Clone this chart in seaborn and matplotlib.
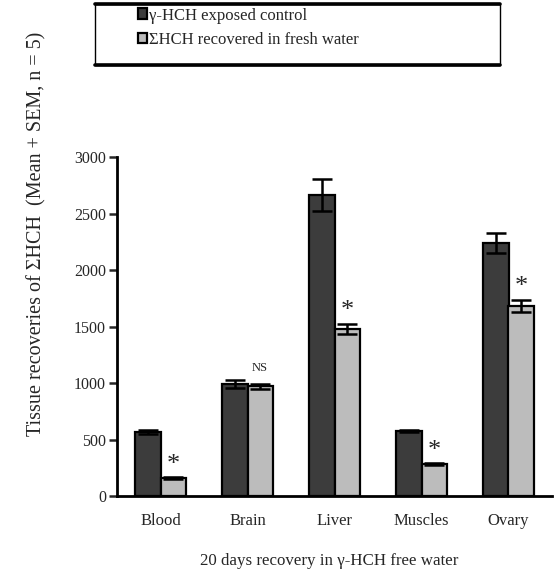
import matplotlib
matplotlib.use("Agg")
import matplotlib.pyplot as plt
import matplotlib.lines as mlines
import matplotlib.patches as mpatches
import numpy as np
import pandas as pd
import seaborn as sns

# Tissue residues (mean and SEM, n = 5)
tissues = ["Blood", "Brain", "Liver", "Muscles", "Ovary"]
groups = ["\u03b3-HCH exposed control", "\u03a3HCH recovered in fresh water"]
control_mean = [565, 990, 2662, 575, 2237]
control_sem = [15, 35, 140, 12, 90]
recovered_mean = [158, 970, 1478, 282, 1682]
recovered_sem = [8, 25, 45, 8, 55]
signif = ["*", "NS", "*", "*", "*"]
y_ticks = [0, 500, 1000, 1500, 2000, 2500, 3000]

df = pd.DataFrame({
    "tissue": tissues * 2,
    "group": [groups[0]] * 5 + [groups[1]] * 5,
    "value": control_mean + recovered_mean,
})

sns.set_theme(style="white")
plt.rcParams["font.family"] = ["Liberation Serif", "DejaVu Serif"]

fig = plt.figure(figsize=(5.55, 5.76), dpi=100)
ax = fig.add_axes([117 / 555, 1 - 496 / 576, 435 / 555, 339 / 576])

colors = ["#3c3c3c", "#bcbcbc"]
sns.barplot(data=df, x="tissue", y="value", hue="group", order=tissues,
            hue_order=groups, palette=colors, width=0.58, gap=0,
            errorbar=None, edgecolor="black", linewidth=1.6, saturation=1,
            ax=ax)

# error bars at the bar centres
bars = [p for p in ax.patches if isinstance(p, mpatches.Rectangle) and p.get_width() > 0][:10]
bars_sorted = sorted(bars, key=lambda p: p.get_x())
means = []
sems = []
for i in range(5):
    means += [control_mean[i], recovered_mean[i]]
    sems += [control_sem[i], recovered_sem[i]]
for p, m, s in zip(bars_sorted, means, sems):
    xc = p.get_x() + p.get_width() / 2
    ax.errorbar(xc, m, yerr=s, fmt="none", ecolor="black",
                elinewidth=1.8, capsize=7, capthick=1.8, zorder=5)

# significance marks above the fresh-water bars
for i, mark in enumerate(signif):
    p = bars_sorted[2 * i + 1]
    xc = p.get_x() + p.get_width() / 2
    top = recovered_mean[i] + recovered_sem[i]
    if mark == "*":
        ax.text(xc, top + 15, "*", ha="center", va="bottom", fontsize=19)
    else:
        ax.text(xc, top + 85, mark, ha="center", va="bottom", fontsize=9)

ax.set_xlim(-0.5, 4.5)
ax.set_ylim(0, 3000)
ax.set_yticks(y_ticks)
ax.set_yticklabels([str(v) for v in y_ticks], fontsize=11.5)
ax.set_xticks(range(5))
ax.set_xticklabels(tissues, fontsize=12)
ax.set_xticks(np.arange(-0.5, 5, 1), minor=True)
ax.tick_params(axis="x", which="major", length=0, pad=12)
ax.tick_params(axis="x", which="minor", direction="out", length=6, width=1.8, color="black")
ax.tick_params(axis="y", direction="out", length=6, width=1.8, pad=2, left=True)
ax.set_xlabel("")
ax.set_ylabel("")

for side in ["top", "right"]:
    ax.spines[side].set_visible(False)
for side in ["left", "bottom"]:
    ax.spines[side].set_linewidth(2)
    ax.spines[side].set_color("black")

# legend from the seaborn handles, inside a framed box
handles, labels = ax.get_legend_handles_labels()
if ax.get_legend() is not None:
    ax.get_legend().remove()
fig.legend(handles, labels, loc="upper left",
           bbox_to_anchor=(131 / 555, 1 - 1 / 576), frameon=False,
           fontsize=12, handlelength=0.55, handleheight=0.6,
           handletextpad=0.15, labelspacing=0.5, borderaxespad=0)

box = mpatches.Rectangle((95 / 555, 1 - 65 / 576), 405 / 555, 61 / 576,
                         transform=fig.transFigure, fill=False,
                         edgecolor="black", linewidth=1.0)
fig.add_artist(box)
for yy in (4, 65):
    fig.add_artist(mlines.Line2D([95 / 555, 500 / 555], [1 - yy / 576] * 2,
                                 transform=fig.transFigure, color="black",
                                 linewidth=2.6))

fig.text(329 / 555, 1 - 561 / 576, "20 days recovery in \u03b3-HCH free water",
         ha="center", va="center", fontsize=12.2)
fig.text(37 / 555, 1 - 234 / 576,
         "Tissue recoveries of \u03a3HCH  (Mean + SEM, n = 5)",
         ha="center", va="center", rotation=90, fontsize=14.5)

fig.savefig("out.png", dpi=100)
